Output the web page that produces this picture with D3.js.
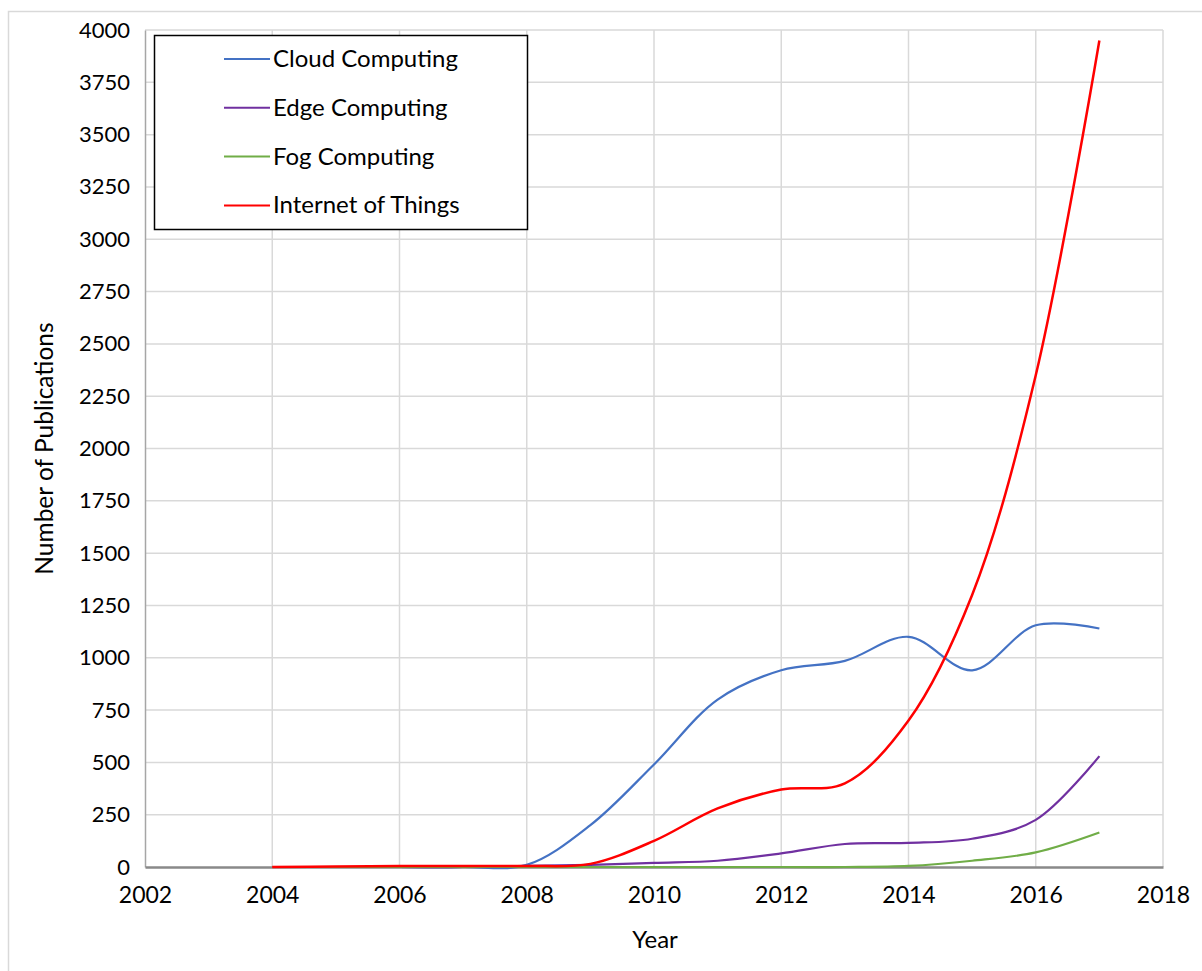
<!DOCTYPE html>
<html>
<head>
<style>
  body { margin: 0; background: #fff; }
  text { font-family: Lato, "Open Sans", sans-serif; fill: #000; }
</style>
<script src="https://d3js.org/d3.v7.min.js"></script>
</head>
<body>
<svg width="1202" height="971" id="chart"></svg>
<script>
// data
var years = [2004, 2005, 2006, 2007, 2008, 2009, 2010, 2011, 2012, 2013, 2014, 2015, 2016, 2017];
var cloud = [0, 0, 0, 0, 10, 200, 490, 800, 940, 985, 1100, 940, 1155, 1140];
var edge  = [0, 0, 0, 0, 5, 10, 20, 30, 65, 110, 115, 135, 225, 530];
var fog   = [0, 0, 0, 0, 0, 0, 0, 0, 0, 0, 5, 30, 70, 165];
var iot   = [0, 2, 5, 5, 5, 15, 125, 280, 370, 400, 700, 1300, 2350, 3950];
var seriesNames = ["Cloud Computing", "Edge Computing", "Fog Computing", "Internet of Things"];
var seriesColors = ["#4472C4", "#7030A0", "#70AD47", "#FF0000"];
var xTicks = [2002, 2004, 2006, 2008, 2010, 2012, 2014, 2016, 2018];
var yTicks = d3.range(0, 4001, 250);

var allSeries = [cloud, edge, fog, iot];

const svg = d3.select("#chart");

// outer chart border
svg.append("rect")
  .attr("x", 8.5).attr("y", 11.5)
  .attr("width", 1220).attr("height", 990)
  .attr("fill", "none").attr("stroke", "#D9D9D9").attr("stroke-width", 1.5);

var plotL = 145, plotR = 1163, plotT = 30, plotB = 867;

var x = d3.scaleLinear().domain([2002, 2018]).range([plotL, plotR]);
var y = d3.scaleLinear().domain([0, 4000]).range([plotB, plotT]);

// gridlines
svg.append("g")
  .selectAll("line.h")
  .data(yTicks.slice(1))
  .enter().append("line")
  .attr("x1", plotL).attr("x2", plotR)
  .attr("y1", d => y(d)).attr("y2", d => y(d))
  .attr("stroke", "#D9D9D9").attr("stroke-width", 1.5);

svg.append("g")
  .selectAll("line.v")
  .data(xTicks.slice(1))
  .enter().append("line")
  .attr("x1", d => x(d)).attr("x2", d => x(d))
  .attr("y1", plotT).attr("y2", plotB)
  .attr("stroke", "#D9D9D9").attr("stroke-width", 1.5);

// axes
var yAxis = svg.append("g")
  .attr("transform", "translate(" + plotL + ",0)")
  .call(d3.axisLeft(y).tickValues(yTicks).tickFormat(d3.format("d")).tickSize(0).tickPadding(15));
yAxis.select(".domain").attr("stroke", "#A6A6A6").attr("stroke-width", 1.5);
yAxis.selectAll("text").style("font-size", "22px").style("font-family", "Lato, sans-serif");

var xAxis = svg.append("g")
  .attr("transform", "translate(0," + plotB + ")")
  .call(d3.axisBottom(x).tickValues(xTicks).tickFormat(d3.format("d")).tickSize(0).tickPadding(20));
xAxis.select(".domain").attr("stroke", "#898989").attr("stroke-width", 2.5);
xAxis.selectAll("text").style("font-size", "23px").style("font-family", "Lato, sans-serif");

// lines (smoothed like the spreadsheet)
var line = d3.line()
  .x((d, i) => x(years[i]))
  .y(d => y(d))
  .curve(d3.curveCatmullRom.alpha(0.5));

svg.append("g")
  .selectAll("path.series")
  .data(allSeries)
  .enter().append("path")
  .attr("class", "series")
  .attr("d", d => line(d))
  .attr("fill", "none")
  .attr("stroke", (d, i) => seriesColors[i])
  .attr("stroke-width", (d, i) => i == 3 ? 2.5 : 2.2);

// axis titles
svg.append("text")
  .text("Year")
  .attr("x", 655).attr("y", 948)
  .attr("text-anchor", "middle")
  .style("font-size", "24px");

svg.append("text")
  .text("Number of Publications")
  .attr("transform", "translate(53," + ((plotT + plotB) / 2) + ") rotate(-90)")
  .attr("text-anchor", "middle")
  .style("font-size", "24.5px");

// legend
var legend = svg.append("g");
legend.append("rect")
  .attr("x", 154.5).attr("y", 35.5)
  .attr("width", 373).attr("height", 194)
  .attr("fill", "#fff").attr("stroke", "#000").attr("stroke-width", 1.5);

var item = legend.selectAll("g.item")
  .data(seriesNames)
  .enter().append("g")
  .attr("class", "item")
  .attr("transform", (d, i) => "translate(0," + (59 + i * 48.8) + ")");

item.append("line")
  .attr("x1", 224).attr("x2", 270)
  .attr("y1", 0).attr("y2", 0)
  .attr("stroke", (d, i) => seriesColors[i])
  .attr("stroke-width", 2);

item.append("text")
  .text(d => d)
  .attr("x", 273).attr("y", 8)
  .style("font-size", "24px");
</script>
</body>
</html>
